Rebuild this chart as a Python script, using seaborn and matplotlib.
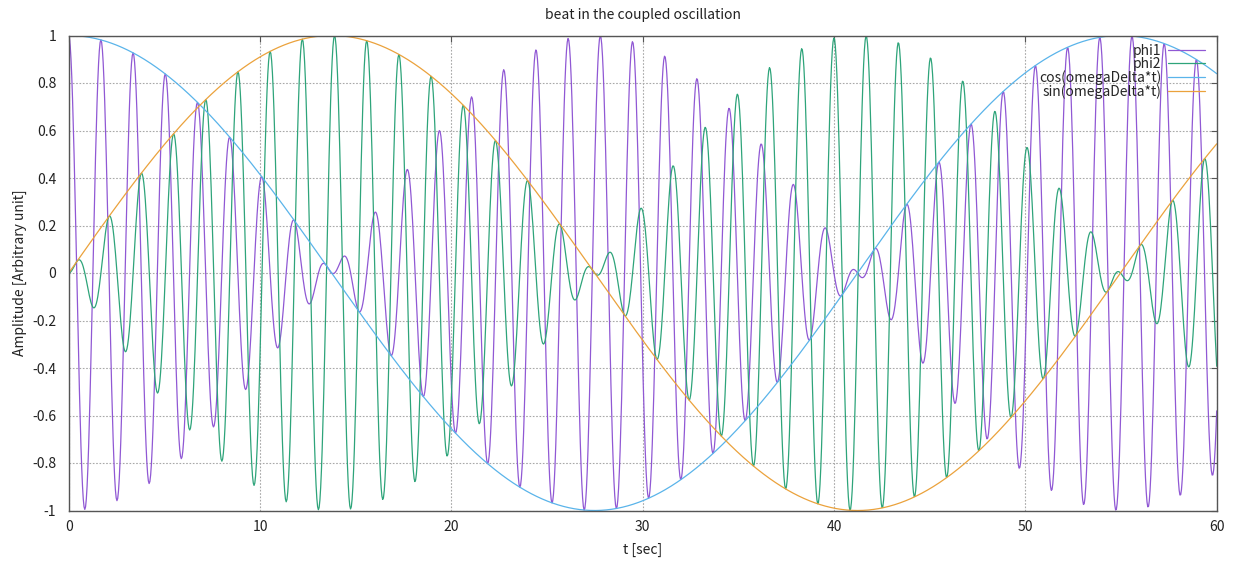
import numpy as np
import pandas as pd
import matplotlib
matplotlib.use("Agg")
import matplotlib.pyplot as plt
import seaborn as sns

# ==========================================
# parameters
# ==========================================
t_min, t_max = 0, 60
n_samples = 1500
omega_delta = 0.1143   # envelope: cos/sin(omegaDelta*t), period ~55 s
omega_mean = 3.731     # carrier: period ~1.684 s

series_names = ["phi1", "phi2", "cos(omegaDelta*t)", "sin(omegaDelta*t)"]
series_colors = ["#9058d4", "#2ea47a", "#5ab4ea", "#eba23c"]

x_ticks = [0, 10, 20, 30, 40, 50, 60]
y_ticks = [-1, -0.8, -0.6, -0.4, -0.2, 0, 0.2, 0.4, 0.6, 0.8, 1]
y_tick_labels = ["-1", "-0.8", "-0.6", "-0.4", "-0.2", "0", "0.2", "0.4", "0.6", "0.8", "1"]

# ==========================================
# curves
# ==========================================
t = np.linspace(t_min, t_max, n_samples)
env_cos = np.cos(omega_delta * t)
env_sin = np.sin(omega_delta * t)
phi1 = env_cos * np.cos(omega_mean * t)
phi2 = env_sin * np.sin(omega_mean * t)

df = pd.concat([
    pd.DataFrame({"t": t, "value": v, "name": n})
    for n, v in zip(series_names, [phi1, phi2, env_cos, env_sin])
])

sns.set_theme(style="white")
plt.rcParams["font.family"] = ["Noto Sans CJK JP", "DejaVu Sans"]
plt.rcParams["axes.unicode_minus"] = False

fig = plt.figure(figsize=(12.4, 5.63), dpi=100)
ax = fig.add_axes([68.7 / 1240, 1 - 510.5 / 563, (1216.7 - 68.7) / 1240, (510.5 - 35.5) / 563])

sns.lineplot(data=df, x="t", y="value", hue="name", hue_order=series_names,
             palette=series_colors, linewidth=0.9, estimator=None, sort=False,
             legend=False, ax=ax)

ax.set_xlim(t_min, t_max)
ax.set_ylim(-1, 1)
ax.set_xticks(x_ticks)
ax.set_xticklabels([str(v) for v in x_ticks])
ax.set_yticks(y_ticks)
ax.set_yticklabels(y_tick_labels)
ax.tick_params(direction="in", top=True, right=True, length=4, width=0.8,
               color="#555555", labelsize=10, labelcolor="#222222")
ax.tick_params(axis="y", pad=9)
ax.tick_params(axis="x", pad=7)
ax.grid(True, color="#a8a8a8", linestyle=(0, (1.5, 1.5)), linewidth=0.8)
for s in ax.spines.values():
    s.set_color("#555555")
    s.set_linewidth(1.0)

ax.set_title("beat in the coupled oscillation", fontsize=10, pad=12, color="#222222")
ax.set_xlabel("t [sec]", fontsize=10, labelpad=6, color="#222222")
ax.set_ylabel("Amplitude [Arbitrary unit]", fontsize=10, labelpad=4, color="#222222")

handles = [plt.Line2D([], [], color=c, linewidth=0.9) for c in series_colors]
leg = ax.legend(handles, series_names, loc="upper right", markerfirst=False,
                frameon=False, fontsize=10, handlelength=2.7, handletextpad=0.5,
                labelspacing=-0.05, borderaxespad=0.2, bbox_to_anchor=(0.9975, 1.0))

fig.savefig("out.png", dpi=100)
